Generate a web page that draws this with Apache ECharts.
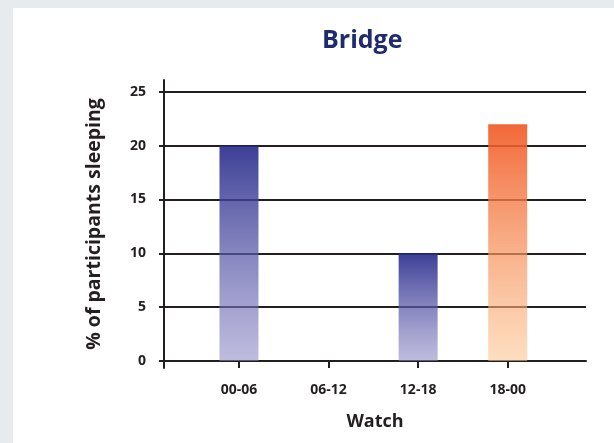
<!DOCTYPE html>
<html>
<head>
<meta charset="utf-8">
<script src="https://cdn.jsdelivr.net/npm/echarts@6/dist/echarts.min.js"></script>
<style>
  html, body { margin: 0; padding: 0; background: #e7ebee; }
  #panel { position: absolute; left: 13px; top: 8px; width: 601px; height: 435px; background: #ffffff; }
  #chart { position: absolute; left: 0; top: 0; width: 614px; height: 443px; }
</style>
</head>
<body>
<div id="panel"></div>
<div id="chart"></div>
<script>
const titleText = 'Bridge';
const categories = ['00-06', '06-12', '12-18', '18-00'];
const values = [20, 0, 10, 22];
const barColorGroup = ['blue', 'blue', 'blue', 'orange'];
const yTicks = [0, 5, 10, 15, 20, 25];
const xAxisName = 'Watch';
const yAxisName = '% of participants sleeping';

const gradients = {
  blue: new echarts.graphic.LinearGradient(0, 0, 0, 1, [
    { offset: 0, color: 'rgba(39,42,139,0.9)' },
    { offset: 1, color: 'rgba(137,133,195,0.55)' }
  ]),
  orange: new echarts.graphic.LinearGradient(0, 0, 0, 1, [
    { offset: 0, color: 'rgba(241,87,34,0.9)' },
    { offset: 1, color: 'rgba(251,195,140,0.55)' }
  ])
};

const ink = '#231f20';
const font = '"Open Sans", Lato, sans-serif';

const chart = echarts.init(document.getElementById('chart'), null, { renderer: 'canvas' });
chart.setOption({
  animation: false,
  backgroundColor: 'transparent',
  title: {
    text: titleText,
    left: 317,
    top: 23,
    padding: 5,
    textStyle: { fontFamily: font, fontWeight: 'bold', fontSize: 25, color: '#1f2b6e' }
  },
  grid: { left: 164, right: 28, top: 80, bottom: 75, containLabel: false },
  xAxis: {
    type: 'value',
    min: -0.837,
    max: 3.874,
    name: xAxisName,
    nameLocation: 'middle',
    nameGap: 45,
    nameTextStyle: { fontFamily: font, fontWeight: 'bold', fontSize: 18, color: ink },
    axisLine: { show: true, onZero: true, lineStyle: { color: ink, width: 2 } },
    axisTick: { show: true, length: 7, customValues: categories.map((c, i) => i), lineStyle: { color: ink, width: 2 } },
    axisLabel: {
      customValues: categories.map((c, i) => i),
      margin: 15,
      fontFamily: font, fontWeight: 'bold', fontSize: 14, color: ink,
      formatter: v => categories[Math.round(v)] || ''
    },
    splitLine: { show: false }
  },
  yAxis: {
    type: 'value',
    min: -0.65,
    max: 26.1,
    name: yAxisName,
    nameLocation: 'middle',
    nameGap: 60,
    nameTextStyle: { fontFamily: font, fontWeight: 'bold', fontSize: 19.5, color: ink },
    axisLine: { show: true, onZero: false, lineStyle: { color: ink, width: 2 } },
    axisTick: { show: true, length: 5, customValues: yTicks, lineStyle: { color: ink, width: 2 } },
    axisLabel: {
      customValues: yTicks,
      margin: 18,
      padding: [0, 0, 7, 0],
      fontFamily: font, fontWeight: 'bold', fontSize: 14, color: ink
    },
    splitLine: { show: true, lineStyle: { color: ink, width: 2 } }
  },
  series: [{
    type: 'bar',
    barWidth: 39,
    data: categories.map((c, i) => ({
      value: [i, values[i]],
      itemStyle: { color: gradients[barColorGroup[i]] }
    }))
  }]
});
</script>
</body>
</html>
